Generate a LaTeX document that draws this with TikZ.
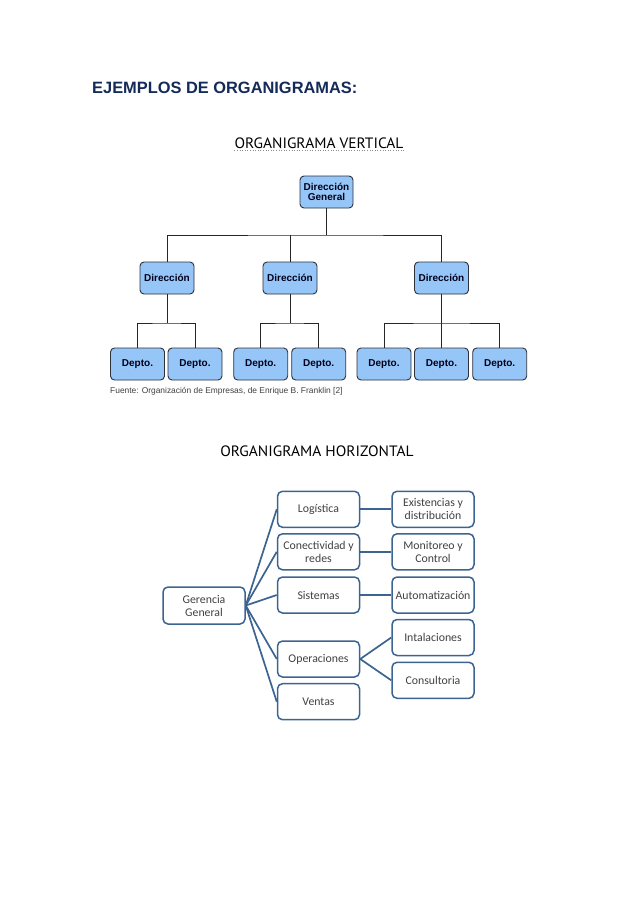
\documentclass[tikz,border=0pt]{standalone}
\usepackage{fontspec}
\usetikzlibrary{calc}
\setmainfont{Liberation Sans}
\newfontfamily\calib{Carlito}
\newfontfamily\headf[FakeStretch=1.03]{PT Sans}
\definecolor{navy}{RGB}{20,42,88}
\definecolor{vblue}{RGB}{150,198,248}
\definecolor{vborder}{RGB}{45,50,60}
\definecolor{hline}{RGB}{60,100,145}
\definecolor{htext}{RGB}{65,65,65}
\tikzset{
  vbox/.style={draw=vborder, fill=vblue, line width=0.9pt, rounded corners=4pt,
    minimum width=54pt, minimum height=32pt, inner sep=0pt, align=center,
    font=\fontsize{10}{11}\selectfont\bfseries, text=black!90!blue},
  vline/.style={draw=black!85, line width=0.9pt},
  hbox/.style={draw=hline, fill=white, line width=1.5pt, rounded corners=5pt,
    minimum width=82pt, minimum height=36pt, inner sep=0pt, align=center,
    font=\calib\fontsize{11.8}{13}\selectfont, text=htext},
  hconn/.style={draw=hline, line width=1.7pt},
  headtext/.style={font=\headf\fontsize{15}{17}\selectfont, text=black, inner sep=0pt}
}
\begin{document}
\begin{tikzpicture}[x=1pt,y=-1pt]
\useasboundingbox[fill=white] (0,0) rectangle (638,903);

% title
\node[anchor=base west, inner sep=0pt, text=navy, font=\fontsize{16.4}{18}\selectfont\bfseries] (title) at (92,93) {EJEMPLOS DE ORGANIGRAMAS:};

% vertical heading
\node[headtext, anchor=base] (hv) at (319,148) {ORGANIGRAMA VERTICAL};
\draw[black!45, line width=0.6pt, dotted] ($(hv.base west)+(0,2.5)$) -- ($(hv.base east)+(0,2.5)$);

% vertical chart
\node[vbox, minimum width=53pt] (dg) at (326.5,192) {Dirección\\[-1pt]General};
\node[vbox] (d1) at (167,278) {Dirección};
\node[vbox] (d2) at (290,278) {Dirección};
\node[vbox] (d3) at (441.5,278) {Dirección};

\node[vbox] (p1) at (137.5,364) {Depto.};
\node[vbox] (p2) at (195,364) {Depto.};
\node[vbox] (p3) at (260.7,364) {Depto.};
\node[vbox] (p4) at (318.7,364) {Depto.};
\node[vbox] (p5) at (384,364) {Depto.};
\node[vbox] (p6) at (441.5,364) {Depto.};
\node[vbox] (p7) at (499.7,364) {Depto.};

\coordinate (b0) at (326.5,235);
\coordinate (c1) at (167,323);
\coordinate (c2) at (290,323);
\coordinate (c3) at (441.5,323);

\draw[vline] (dg.south) -- (b0);
\draw[vline] (d1.north) |- (b0) -| (d3.north);
\draw[vline] (d2.north) -- (d2.north |- b0);

\draw[vline] (d1.south) -- (c1);
\draw[vline] (p1.north) |- (c1) -| (p2.north);
\draw[vline] (d2.south) -- (c2);
\draw[vline] (p3.north) |- (c2) -| (p4.north);
\draw[vline] (d3.south) -- (c3);
\draw[vline] (p5.north) |- (c3) -| (p7.north);
\draw[vline] (p6.north) -- (c3);

\node[anchor=base west, inner sep=0pt, text=black!75, font=\fontsize{8.4}{10}\selectfont] (src) at (110,393) {Fuente: Organización de Empresas, de Enrique B. Franklin [2]};

% horizontal heading
\node[headtext, anchor=base] (hh) at (317,456) {ORGANIGRAMA HORIZONTAL};

% horizontal chart
\node[hbox, minimum height=37pt] (g) at (204,605.5) {Gerencia\\General};

\node[hbox] (m1) at (318.5,509.3) {Logística};
\node[hbox] (m2) at (318.5,551.8) {Conectividad y\\redes};
\node[hbox] (m3) at (318.5,595) {Sistemas};
\node[hbox] (m4) at (318.5,659) {Operaciones};
\node[hbox] (m5) at (318.5,701.7) {Ventas};

\node[hbox] (r1) at (433,509.3) {Existencias y\\distribución};
\node[hbox] (r2) at (433,551.8) {Monitoreo y\\Control};
\node[hbox] (r3) at (433,595) {Automatización};
\node[hbox] (r4) at (433,637.5) {Intalaciones};
\node[hbox] (r5) at (433,680.3) {Consultoria};

\foreach \m in {m1,m2,m3,m4,m5} \draw[hconn] (g.east) -- (\m.west);
\draw[hconn] (m1.east) -- (r1.west);
\draw[hconn] (m2.east) -- (r2.west);
\draw[hconn] (m3.east) -- (r3.west);
\draw[hconn] (m4.east) -- (r4.west);
\draw[hconn] (m4.east) -- (r5.west);
\end{tikzpicture}
\end{document}
